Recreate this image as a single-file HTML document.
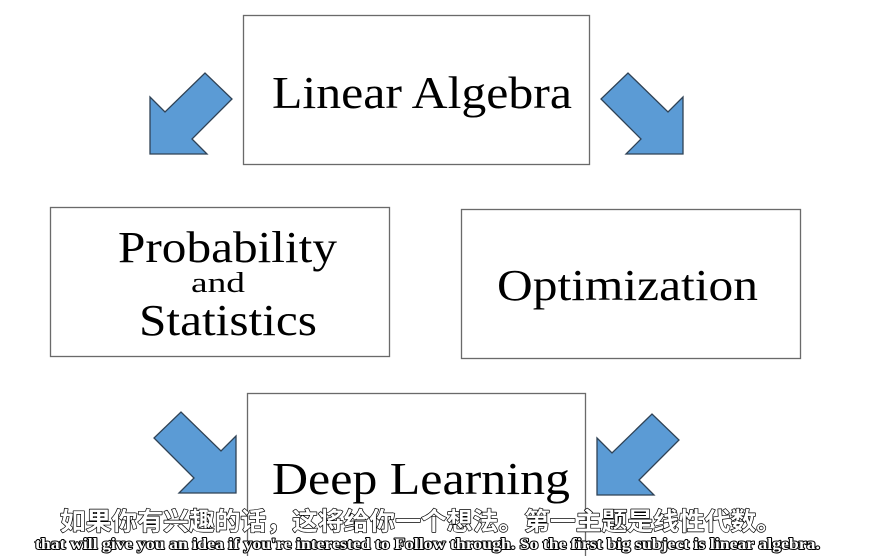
<!DOCTYPE html>
<html><head><meta charset="utf-8"><style>
html,body{margin:0;padding:0;background:#fff;width:885px;height:556px;overflow:hidden}
svg{display:block}
</style></head><body>
<svg width="885" height="556" viewBox="0 0 885 556" xmlns="http://www.w3.org/2000/svg">
<rect width="885" height="556" fill="#fff"/>
<g fill="#5b9bd5" stroke="#2f4255" stroke-width="1.3" stroke-linejoin="miter">
<polygon points="150,97 165,112 205,73 232,99 192,139 207,154 150,154"/>
<polygon points="683,97 668,112 628,73 601,99 641,139 626,154 683,154"/>
<polygon points="236,436 221,451 181,412 154,438 194,478 179,493 236,493"/>
<polygon points="597,438 612,453 652,414 679,440 639,480 654,495 597,495"/>
</g>
<g fill="#fff" stroke="#6a6a6a" stroke-width="1.3">
<rect x="243.5" y="15.5" width="346" height="149"/>
<rect x="50.5" y="207.5" width="339" height="149"/>
<rect x="461.5" y="209.5" width="339" height="149"/>
<rect x="247.5" y="393.5" width="338" height="170"/>
</g>
<g font-family="Liberation Serif, serif" fill="#000">
<text x="272" y="108" font-size="46" textLength="300" lengthAdjust="spacingAndGlyphs">Linear Algebra</text>
<text x="118" y="262" font-size="44" textLength="219" lengthAdjust="spacingAndGlyphs">Probability</text>
<text x="191" y="292" font-size="29" textLength="54" lengthAdjust="spacingAndGlyphs">and</text>
<text x="139" y="335" font-size="44" textLength="178" lengthAdjust="spacingAndGlyphs">Statistics</text>
<text x="497" y="300" font-size="44" textLength="261" lengthAdjust="spacingAndGlyphs">Optimization</text>
<text x="272" y="494" font-size="46" textLength="298" lengthAdjust="spacingAndGlyphs">Deep Learning</text>
</g>
<g fill="#fff" stroke="#000" paint-order="stroke" stroke-linejoin="round">
<text x="60" y="530" font-family="Liberation Sans, Noto Sans CJK SC, sans-serif" font-weight="bold" font-size="25" textLength="722" lengthAdjust="spacingAndGlyphs" stroke-width="1.4">如果你有兴趣的话，这将给你一个想法。第一主题是线性代数。</text>
<text x="35" y="549" font-family="Liberation Serif, serif" font-weight="bold" font-size="16" textLength="785" lengthAdjust="spacingAndGlyphs" stroke-width="2">that will give you an idea if you're interested to Follow through. So the first big subject is linear algebra.</text>
</g>
</svg>
</body></html>
